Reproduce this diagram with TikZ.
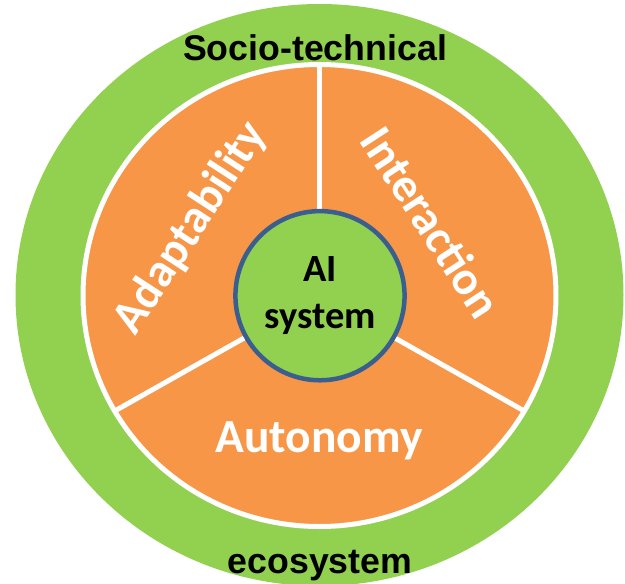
\documentclass[tikz,border=0pt]{standalone}
\usepackage{fontspec}
\setmainfont{Liberation Sans}
\newfontfamily\calfont{Carlito}
\definecolor{ringgreen}{HTML}{92D050}
\definecolor{segorange}{HTML}{F79646}
\definecolor{aiblue}{HTML}{3A5F8F}
\tikzset{
  outerlabel/.style={inner sep=0pt, anchor=base, text=black,
    font=\fontsize{35.7}{40}\selectfont\bfseries},
  seglabel/.style={inner sep=0pt, text=white,
    font=\calfont\fontsize{47.5}{52}\selectfont\bfseries},
  divider/.style={draw=white, line width=5pt},
  aicircle/.style={circle, draw=aiblue, line width=4.5pt, fill=ringgreen,
    minimum size=151.5pt, inner sep=0pt, align=center,
    font=\calfont\fontsize{38.5}{47}\selectfont\bfseries}
}
\begin{document}
\begin{tikzpicture}[x=1pt,y=-1pt]
\useasboundingbox (0,0) rectangle (625,584);
\clip (0,0) rectangle (625,584);
% outer ecosystem ring
\fill[ringgreen] (319.5,295) ellipse [x radius=304, y radius=291];
% orange disc with white rim
\draw[white, line width=5pt, fill=segorange] (319.5,295.5) ellipse [x radius=236.5, y radius=231];
% dividers
\coordinate (c) at (319.5,295.5);
\coordinate (top) at (319.5,64.5);
\coordinate (ll) at (114.7,411);
\coordinate (lr) at (524.3,411);
\draw[divider] (c) -- (top);
\draw[divider] (c) -- (ll);
\draw[divider] (c) -- (lr);
% central AI system
\node[aicircle] (ai) at (320,295.7) {\raisebox{-4pt}{\parbox{150pt}{\centering AI\\system}}};
% segment labels
\node[seglabel, rotate=57] (adapt) at (191,228) {Adaptability};
\node[seglabel, rotate=-57] (inter) at (431.5,222) {Interaction};
\node[seglabel, anchor=base] (auton) at (319,452) {Autonomy};
% outer labels
\node[outerlabel] (socio) at (315,60) {Socio-technical};
\node[outerlabel] (eco) at (320,573) {ecosystem};
\end{tikzpicture}
\end{document}
